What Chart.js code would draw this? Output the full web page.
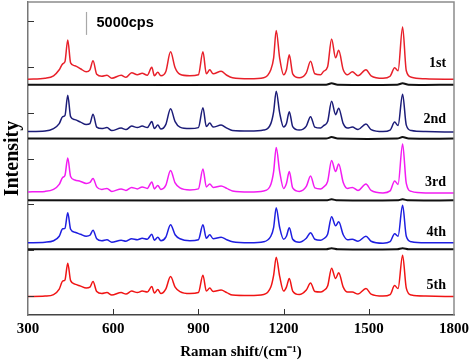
<!DOCTYPE html>
<html>
<head>
<meta charset="utf-8">
<script src="https://cdn.jsdelivr.net/npm/chart.js@4.4.0/dist/chart.umd.min.js"></script>
<style>
  html, body { margin: 0; padding: 0; background: #fff; }
</style>
</head>
<body>
<canvas id="raman" width="474" height="361"></canvas>
<script>
// Raman shift positions (cm-1), shared by all five spectra
const shift = [300, 360, 390, 410, 422, 430, 440, 450, 465, 485, 505, 518, 529, 542, 560, 578, 595, 628, 645, 665,
  685, 702, 720, 736, 745, 757, 768, 785, 802, 818, 835, 870, 900, 916, 928, 940, 952, 980, 1000, 1020,
  1080, 1130, 1155, 1165, 1174, 1186, 1200, 1210, 1220, 1232, 1255, 1280, 1295, 1310, 1330, 1341, 1355, 1369, 1383, 1394,
  1410, 1425, 1442, 1462, 1490, 1508, 1550, 1575, 1591, 1603, 1619, 1632, 1650, 1700, 1800];

// intensities (a.u., stacked as in the figure)
const first = [236.5, 237.5, 240, 246, 252, 254, 276, 253, 250, 247, 244, 246, 255, 241.5, 239.5, 240.5, 237.5, 240.5, 238.5, 243,
  241, 242.5, 240.5, 248.5, 240, 243.5, 240, 244, 264, 248, 241.5, 240, 241, 264, 242, 246, 242, 244.5, 240.5, 238,
  237, 238, 246, 258, 285.5, 258, 241, 246, 261, 242, 238, 243, 254.5, 242, 241, 244.5, 249, 277, 258, 265.5,
  246, 241, 244, 240, 246, 240, 237.5, 239.5, 248, 245, 289, 245, 238.5, 237, 236.5];
const second = [184, 184.5, 187, 192, 199, 200, 220.5, 199, 196, 193.5, 191, 192, 201.5, 188.5, 187, 188, 185, 187.5, 186, 189.5,
  188, 189.5, 188, 194, 187, 190.5, 186.5, 191, 207, 194, 188.5, 187, 188, 208, 189, 192.5, 188.5, 190.5, 187.5, 185,
  184.5, 185.5, 192, 204, 224.5, 203, 188.5, 192, 204, 189, 185.5, 189.5, 199, 188.5, 187.5, 190, 194, 214.5, 201, 207.5,
  192, 187.5, 188.5, 186, 191.5, 186, 184, 185.5, 193.5, 190, 221.5, 190.5, 185, 184, 183.5];
const third = [123.5, 124, 126, 131, 138, 140, 157.5, 139, 135.5, 134, 132, 133, 137, 128.5, 126, 127, 124, 126.5, 125, 128,
  126.5, 128.5, 127, 133.5, 126.5, 130, 126, 130, 145, 132.5, 127.5, 125.5, 126.5, 146.5, 128.5, 131.5, 128, 129.5, 127, 124.5,
  123.5, 124.5, 131, 144, 168, 144, 127, 132, 144, 127.5, 124, 129, 139.5, 127.5, 126.5, 128.5, 134, 155, 144, 151.5,
  133, 127, 128, 125, 131.5, 125, 122.5, 124.5, 134.5, 131, 171.5, 132, 124, 122.5, 122.5];
const fourth = [72.5, 73, 74.5, 79, 86.5, 87, 102.5, 86, 83, 81, 79, 80, 85, 76.5, 74.5, 75.5, 73, 75, 74, 76.5,
  75.5, 77, 76, 81, 75, 78, 74.5, 78, 90.5, 80.5, 76.5, 74.5, 75.5, 90.5, 77, 80.5, 76.5, 78, 75.5, 73.5,
  72.5, 73.5, 79, 88, 107.5, 88, 76, 79, 87.5, 76, 73, 77, 82.5, 76, 75, 76.5, 81, 98.5, 89.5, 93.5,
  80.5, 75.5, 76, 74, 79, 74, 72, 73.5, 81.5, 79, 110, 79, 73.5, 72.5, 72.5];
const fifth = [18.5, 19, 20.5, 26, 34, 35, 52, 34.5, 31, 29, 27, 28, 33.5, 23.5, 21.5, 22.5, 20, 22.5, 21, 24,
  22.5, 24, 23, 28.5, 22, 25.5, 21.5, 26, 38.5, 28, 23.5, 21.5, 22.5, 40, 24, 27, 23.5, 25, 22.5, 20,
  19.5, 20.5, 28, 40, 58, 39, 24, 28, 36.5, 24, 20.5, 25, 32, 23.5, 23, 24.5, 29, 47, 36.5, 42.5,
  28, 23, 23, 21, 26.5, 21, 19, 20.5, 29.5, 26.5, 60, 27, 20, 19, 18.5];

// black blank traces between the spectra
const blankShift = [300, 1350, 1369, 1390, 1600, 1619, 1640, 1800];
const blankA = [231, 231, 232.5, 231, 231, 232.5, 231, 231];
const blankB = [177, 177, 178.5, 177, 177, 178.5, 177, 177];
const blankC = [115, 115, 116, 115, 115, 116, 115, 115];
const blankD = [66, 66, 67, 66, 66, 67, 66, 66];

const traceNames = ["1st", "2nd", "3rd", "4th", "5th"];
const traceLabelShift = 1772;
const traceLabelLevel = [252, 196, 133, 83, 30];

const scaleBarShift = 506;
const scaleBarRange = [281, 304];
const scaleBarText = "5000cps";

const xTickValues = [300, 600, 900, 1200, 1500, 1800];
const yTickValues = [19, 65, 111, 157, 203, 249, 295];

function toPoints(xs, ys) {
  return xs.map((x, i) => ({ x: x, y: ys[i] }));
}

function spectrum(values, color) {
  return {
    data: toPoints(shift, values),
    borderColor: color,
    borderWidth: 1.5,
    pointRadius: 0,
    cubicInterpolationMode: "monotone",
    fill: false,
  };
}

function blank(values) {
  return {
    data: toPoints(blankShift, values),
    borderColor: "#111",
    borderWidth: 2,
    pointRadius: 0,
    tension: 0.3,
    fill: false,
  };
}

const decorations = {
  id: "decorations",
  afterDraw(chart) {
    const { ctx, chartArea: a, scales } = chart;
    const x = scales.x, y = scales.y;
    ctx.save();
    // top and right frame
    ctx.strokeStyle = "#8c8c8c";
    ctx.lineWidth = 1.5;
    ctx.beginPath();
    ctx.moveTo(a.left, a.top);
    ctx.lineTo(a.right, a.top);
    ctx.lineTo(a.right, a.bottom);
    ctx.stroke();
    // inward ticks
    ctx.strokeStyle = "#333";
    ctx.lineWidth = 1;
    ctx.beginPath();
    xTickValues.slice(1, -1).forEach((v) => {
      const px = Math.round(x.getPixelForValue(v)) + 0.5;
      ctx.moveTo(px, a.bottom);
      ctx.lineTo(px, a.bottom - 6);
    });
    yTickValues.forEach((v) => {
      const py = Math.round(y.getPixelForValue(v)) + 0.5;
      ctx.moveTo(a.left, py);
      ctx.lineTo(a.left + 6, py);
    });
    ctx.stroke();
    // trace names
    ctx.fillStyle = "#000";
    ctx.font = "bold 14px 'Liberation Serif'";
    ctx.textAlign = "right";
    ctx.textBaseline = "middle";
    traceNames.forEach((n, i) => {
      ctx.fillText(n, x.getPixelForValue(traceLabelShift), y.getPixelForValue(traceLabelLevel[i]));
    });
    // scale bar text
    ctx.font = "bold 14.5px 'Liberation Sans'";
    ctx.textAlign = "left";
    ctx.fillText(scaleBarText, x.getPixelForValue(scaleBarShift) + 10,
      y.getPixelForValue((scaleBarRange[0] + scaleBarRange[1]) / 2));
    ctx.restore();
  },
};

new Chart(document.getElementById("raman"), {
  type: "line",
  data: {
    datasets: [
      blank(blankA),
      blank(blankB),
      blank(blankC),
      blank(blankD),
      spectrum(first, "#e8202a"),
      spectrum(second, "#1c1c78"),
      spectrum(third, "#f21cf2"),
      spectrum(fourth, "#1e1ee0"),
      spectrum(fifth, "#f01414"),
      {
        data: [{ x: scaleBarShift, y: scaleBarRange[0] }, { x: scaleBarShift, y: scaleBarRange[1] }],
        borderColor: "#a8a8a8",
        borderWidth: 1.2,
        pointRadius: 0,
      },
    ],
  },
  options: {
    responsive: false,
    animation: false,
    layout: { padding: { top: 2, right: 6, left: 0, bottom: 0 } },
    plugins: {
      legend: { display: false },
      tooltip: { enabled: false },
    },
    scales: {
      x: {
        type: "linear",
        min: 300,
        max: 1800,
        grid: { display: false, drawTicks: false },
        border: { display: true, color: "#444", width: 1.5 },
        afterBuildTicks: (scale) => {
          scale.ticks = xTickValues.map((v) => ({ value: v }));
        },
        ticks: {
          padding: 5,
          color: "#000",
          maxRotation: 0,
          autoSkip: false,
          callback: (v) => String(v),
          font: { family: "'Liberation Serif'", size: 15, weight: "bold" },
        },
        title: {
          display: true,
          text: "Raman shift/(cm\u207B\u00B9)",
          color: "#000",
          padding: { top: 0, bottom: 0 },
          font: { family: "'Liberation Serif'", size: 15, weight: "bold" },
        },
      },
      y: {
        min: 0,
        max: 314,
        grid: { display: false, drawTicks: false },
        border: { display: true, color: "#777", width: 1.5 },
        ticks: { display: false },
        title: {
          display: true,
          text: "Intensity",
          color: "#000",
          padding: { top: 1, bottom: 3 },
          font: { family: "'Liberation Serif'", size: 20, weight: "bold" },
        },
      },
    },
  },
  plugins: [decorations],
});
</script>
</body>
</html>
